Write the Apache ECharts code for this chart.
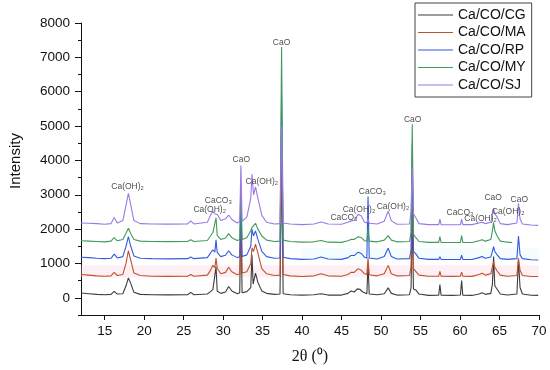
<!DOCTYPE html>
<html>
<head>
<meta charset="utf-8">
<script src="https://cdn.jsdelivr.net/npm/echarts@6/dist/echarts.min.js"></script>
<style>html,body{margin:0;padding:0;background:#fff}#c{width:550px;height:370px}</style>
</head>
<body>
<div id="c"></div>
<script>
var seriesNames = ['Ca/CO/CG','Ca/CO/MA','Ca/CO/RP','Ca/CO/MY','Ca/CO/SJ'];
var xTicks = [15,20,25,30,35,40,45,50,55,60,65,70];
var yTicks = [0,1000,2000,3000,4000,5000,6000,7000,8000];
var yMinorTicks = [-500,500,1500,2500,3500,4500,5500,6500,7500];

var CG = [[12,140],[13,120],[14,100],[15,90],[15.8,100],[16.2,190],[16.6,110],[17.3,120],[17.7,350],[18.0,580],[18.3,420],[18.7,160],[19.5,100],[21,90],[23,85],[25.5,90],[25.9,160],[26.3,90],[28,110],[28.4,180],[28.7,240],[28.95,220],[29.1,900],[29.25,200],[29.7,130],[30.3,170],[30.7,330],[31.1,200],[31.8,120],[32.1,150],[32.25,2500],[32.4,150],[33.0,180],[33.5,300],[33.65,1250],[33.8,400],[34.1,720],[34.4,450],[34.9,200],[35.5,130],[36.5,100],[37.2,110],[37.4,4000],[37.6,120],[38.5,90],[40,80],[41.5,90],[42.4,120],[43.3,80],[45,80],[45.8,130],[46.2,200],[46.6,170],[47.0,260],[47.3,250],[47.7,170],[48.2,120],[48.35,1000],[48.5,110],[49.5,90],[50.4,120],[50.9,290],[51.3,130],[52,80],[53.6,90],[53.8,300],[53.95,2500],[54.1,260],[54.4,230],[54.8,110],[56,70],[57.3,75],[57.45,385],[57.6,75],[59,70],[60.05,80],[60.2,500],[60.35,75],[61.5,70],[62.4,110],[62.8,150],[63.2,100],[63.9,130],[64.1,400],[64.25,1200],[64.4,350],[64.7,250],[65.1,110],[66,80],[67.2,110],[67.4,1100],[67.6,300],[67.9,110],[69,75],[69.9,70]];

var MA = [[12,680],[13,660],[14,640],[15,630],[15.8,640],[16.2,740],[16.6,650],[17.3,680],[17.7,1000],[18.0,1370],[18.3,1100],[18.7,720],[19.5,650],[21,630],[23,625],[25.5,630],[25.9,680],[26.3,630],[28,660],[28.4,800],[28.7,945],[28.95,880],[29.1,1155],[29.25,860],[29.7,700],[30.3,740],[30.7,890],[31.1,760],[31.8,670],[32.1,700],[32.25,2700],[32.4,720],[33.0,760],[33.5,1000],[33.65,1450],[33.85,1350],[34.1,1560],[34.4,1300],[34.9,850],[35.5,700],[36.5,650],[37.2,660],[37.4,4500],[37.6,680],[38.5,640],[40,620],[41.5,640],[42.4,700],[43.3,640],[45,630],[45.8,680],[46.2,740],[46.6,740],[47.1,850],[47.5,800],[47.9,700],[48.2,680],[48.35,1160],[48.5,670],[49.5,640],[50.4,700],[50.9,945],[51.3,700],[52,640],[53.6,650],[53.8,900],[53.95,3000],[54.1,850],[54.4,770],[54.8,660],[56,630],[57.3,630],[57.45,770],[57.6,630],[59,625],[60.05,630],[60.2,750],[60.35,630],[61.5,625],[62.4,680],[62.8,715],[63.2,660],[63.9,700],[64.1,900],[64.25,1050],[64.4,900],[64.7,780],[65.1,660],[66,630],[67.2,650],[67.4,1150],[67.6,800],[67.9,650],[69,620],[69.9,620]];

var RP = [[12,1180],[13,1170],[14,1150],[15,1140],[15.8,1150],[16.2,1270],[16.6,1160],[17.3,1200],[17.7,1500],[18.0,1780],[18.3,1500],[18.7,1220],[19.5,1150],[21,1140],[23,1135],[25.5,1140],[25.9,1190],[26.3,1140],[28,1170],[28.4,1300],[28.7,1400],[28.95,1330],[29.1,1690],[29.25,1320],[29.7,1200],[30.3,1240],[30.7,1370],[31.1,1250],[31.8,1170],[32.1,1200],[32.25,3000],[32.4,1200],[33.0,1250],[33.5,1500],[33.65,2000],[33.85,1800],[34.1,1950],[34.4,1700],[34.9,1350],[35.5,1200],[36.5,1150],[37.2,1160],[37.4,5900],[37.6,1180],[38.5,1140],[40,1120],[41.5,1130],[42.4,1190],[43.3,1130],[45,1120],[45.8,1170],[46.2,1230],[46.6,1230],[47.1,1330],[47.5,1290],[47.9,1180],[48.2,1160],[48.35,2950],[48.5,1160],[49.5,1130],[50.4,1200],[50.9,1445],[51.3,1200],[52,1130],[53.6,1140],[53.8,1400],[53.95,4500],[54.1,1350],[54.4,1280],[54.8,1150],[56,1120],[57.3,1120],[57.45,1200],[57.6,1120],[59,1115],[60.05,1120],[60.2,1240],[60.35,1120],[61.5,1115],[62.4,1170],[62.8,1200],[63.2,1150],[63.9,1190],[64.1,1350],[64.25,1490],[64.4,1350],[64.7,1250],[65.1,1140],[66,1120],[67.2,1140],[67.4,1800],[67.6,1250],[67.9,1140],[69,1110],[69.9,1100]];

var MY = [[12,1660],[13,1650],[14,1640],[15,1630],[15.8,1650],[16.2,1750],[16.6,1660],[17.3,1700],[17.7,1880],[18.0,2025],[18.3,1870],[18.7,1700],[19.5,1650],[21,1640],[23,1635],[25.5,1640],[25.9,1690],[26.3,1640],[28,1670],[28.4,1800],[28.7,1900],[28.95,1850],[29.1,2330],[29.25,1820],[29.7,1700],[30.3,1740],[30.7,1870],[31.1,1750],[31.8,1670],[32.1,1700],[32.25,3300],[32.4,1700],[33.0,1750],[33.5,1950],[33.65,2050],[33.85,2100],[34.1,2170],[34.4,2000],[34.9,1800],[35.5,1680],[36.5,1640],[37.2,1650],[37.4,7300],[37.6,1680],[38.5,1640],[40,1620],[41.5,1630],[42.4,1670],[43.3,1620],[45,1615],[45.8,1660],[46.2,1700],[46.6,1700],[47.1,1780],[47.5,1750],[47.9,1660],[48.2,1650],[48.35,2000],[48.5,1650],[49.5,1630],[50.4,1680],[50.9,1810],[51.3,1680],[52,1630],[53.6,1640],[53.8,1900],[53.95,5050],[54.1,1850],[54.4,1750],[54.8,1640],[56,1615],[57.3,1615],[57.45,1780],[57.6,1615],[59,1610],[60.05,1615],[60.2,1810],[60.35,1615],[61.5,1610],[62.4,1660],[62.8,1690],[63.2,1650],[63.9,1700],[64.1,1950],[64.25,2200],[64.4,1950],[64.7,1800],[65.1,1650],[66,1620],[66.6,1610]];

var SJ = [[12,2180],[13,2170],[14,2160],[15,2140],[15.8,2160],[16.2,2340],[16.6,2180],[17.3,2250],[17.7,2700],[18.0,3040],[18.3,2700],[18.7,2250],[19.5,2160],[21,2150],[23,2145],[25.5,2150],[25.9,2240],[26.3,2150],[28,2200],[28.4,2400],[28.7,2520],[28.95,2450],[29.1,2400],[29.3,2420],[29.7,2250],[30.3,2300],[30.7,2410],[31.1,2280],[31.8,2180],[32.1,2220],[32.25,3850],[32.4,2230],[33.0,2350],[33.5,2900],[33.65,3600],[33.85,3000],[34.1,3230],[34.4,2900],[34.9,2400],[35.5,2200],[36.5,2150],[37.2,2160],[37.4,5000],[37.6,2180],[38.5,2150],[40,2130],[41.5,2150],[42.4,2210],[43.3,2150],[45,2140],[45.8,2200],[46.2,2240],[46.6,2260],[47.1,2430],[47.5,2380],[47.9,2200],[48.2,2180],[48.35,2300],[48.5,2170],[49.5,2150],[50.4,2230],[50.9,2525],[51.3,2240],[52,2140],[53.6,2150],[53.8,2500],[53.95,3800],[54.1,2450],[54.4,2330],[54.8,2160],[56,2130],[57.3,2130],[57.45,2290],[57.6,2130],[59,2125],[60.05,2130],[60.2,2290],[60.35,2130],[61.5,2130],[62.4,2180],[62.8,2200],[63.2,2160],[63.9,2200],[64.1,2450],[64.25,2600],[64.4,2450],[64.7,2350],[65.1,2160],[66,2130],[67.2,2180],[67.4,2750],[67.6,2300],[67.9,2150],[69,2120],[69.9,2110]];

var annText = ['Ca(OH)₂','CaCO₃','Ca(OH)₂','CaO','Ca(OH)₂','CaO','CaCO₃','Ca(OH)₂','CaCO₃','Ca(OH)₂','CaO','CaCO₃','Ca(OH)₂','CaO','Ca(OH)₂','CaO'];
var annX = [17.9,29.4,28.3,32.3,34.9,37.4,45.3,47.2,48.9,51.5,54.0,60.0,62.6,64.2,66.1,67.5];
var annY = [3245,2840,2575,4020,3380,7440,2340,2580,3100,2660,5200,2485,2310,2910,2515,2860];

var colors = ['#3c3c3c','#c0502e','#3558e0','#3f9a5c','#9b78e6'];
var seriesData = [CG, MA, RP, MY, SJ];

var font = 'Liberation Sans, Arial, DejaVu Sans, sans-serif';
var plain = function(v){ return String(v); };
var series = seriesNames.map(function(n, i){
  var s = {name:n, type:'line', data:seriesData[i], showSymbol:false, symbol:'none',
    lineStyle:{width:1.1, color:colors[i]}, itemStyle:{color:colors[i]}, animation:false, z:2+i};
  if (i === 1) {
    s.markArea = {silent:true, itemStyle:{color:'rgba(250,205,220,0.3)'},
      data:[[{xAxis:12, yAxis:600},{xAxis:70, yAxis:950}]]};
  }
  if (i === 2) {
    s.markArea = {silent:true, itemStyle:{color:'rgba(205,242,246,0.22)'},
      data:[[{xAxis:40, yAxis:1100},{xAxis:70, yAxis:1450}]]};
  }
  return s;
});
series.push({
  type:'scatter', symbolSize:0, silent:true, animation:false, z:20,
  data: annX.map(function(x,i){ return {value:[x, annY[i]], label:{formatter: annText[i]}}; }),
  label:{show:true, position:'inside', color:'#222', fontSize:8.5, fontFamily:font}
});

var chart = echarts.init(document.getElementById('c'), null, {renderer:'canvas'});
chart.setOption({
  animation:false,
  backgroundColor:'#fff',
  grid:{left:79, right:11, top:23, bottom:53, containLabel:false},
  legend:{
    data:seriesNames, orient:'vertical', left:415, top:3,
    padding:[5,6,5,3], itemGap:3.5, itemWidth:35, itemHeight:1, icon:'rect',
    borderColor:'#444', borderWidth:1, backgroundColor:'#fff',
    textStyle:{fontSize:14, color:'#111', fontFamily:font}
  },
  xAxis:[{
    type:'value', min:12, max:70,
    name:'2θ (⁰)', nameLocation:'middle', nameGap:34,
    nameTextStyle:{fontSize:16, color:'#111', fontFamily:'Liberation Serif, Times New Roman, serif'},
    axisLine:{show:true, onZero:false, lineStyle:{color:'#111', width:1}},
    axisTick:{show:true, inside:false, length:5, customValues:xTicks, lineStyle:{color:'#111'}},
    axisLabel:{show:true, margin:9, customValues:xTicks, formatter:plain, fontSize:13.5, color:'#111', fontFamily:font},
    splitLine:{show:false}
  }],
  yAxis:[{
    type:'value', min:-500, max:8000,
    name:'Intensity', nameLocation:'middle', nameGap:58,
    nameTextStyle:{fontSize:15, color:'#111', fontFamily:font, padding:[0,0,0,16]},
    axisLine:{show:true, onZero:false, lineStyle:{color:'#111', width:1}},
    axisTick:{show:true, inside:false, length:6, customValues:yTicks, lineStyle:{color:'#111'}},
    axisLabel:{show:true, margin:11, customValues:yTicks, formatter:plain, fontSize:13.5, color:'#111', fontFamily:font},
    splitLine:{show:false}
  },{
    type:'value', min:-500, max:8000, position:'left',
    axisLine:{show:false},
    axisTick:{show:true, inside:false, length:3, customValues:yMinorTicks, lineStyle:{color:'#111'}},
    axisLabel:{show:false},
    splitLine:{show:false}
  }],
  series: series
});
</script>
</body>
</html>
